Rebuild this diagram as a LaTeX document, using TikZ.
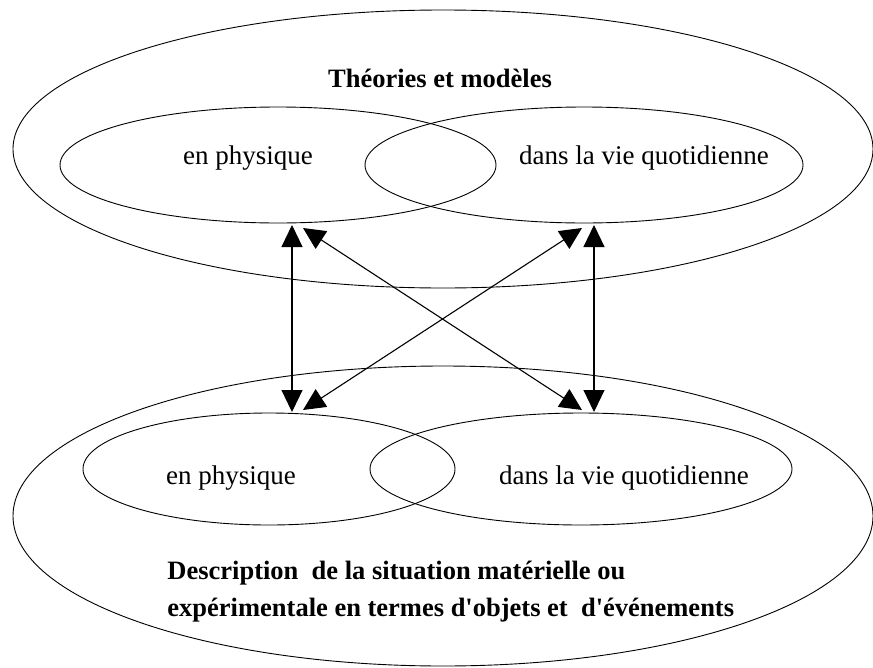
\documentclass[tikz,border=0pt]{standalone}
\usepackage{fontspec}
\setmainfont{Liberation Serif}[Ligatures=TeXOff]
\usetikzlibrary{arrows.meta}
\tikzset{
    lab/.style={font=\fontsize{27}{32}\selectfont, inner sep=0pt},
    title/.style={font=\fontsize{26.5}{37}\selectfont\bfseries, inner sep=0pt},
    link/.style={line width=1.1pt, {Triangle[length=22pt,width=21pt]}-{Triangle[length=22pt,width=21pt]}},
}
\begin{document}
\begin{tikzpicture}[x=1pt,y=-1pt,line width=0.9pt]
    \useasboundingbox (0,0) rectangle (873,667);
    % theories
    \draw (443,149) ellipse (430 and 139);
    \draw (278,165) ellipse (218 and 58);
    \draw (584,165) ellipse (219 and 58);
    \node[title] (theo) at (440,78) {Théories et modèles};
    \node[lab] (phys1) at (248,158) {en physique};
    \node[lab] (vie1) at (644,158) {dans la vie quotidienne};
    % description
    \draw (443,516) ellipse (430 and 150);
    \draw (269,469) ellipse (186 and 56);
    \draw (581,469) ellipse (211 and 56);
    \node[lab] (phys2) at (231,478) {en physique};
    \node[lab] (vie2) at (624,478) {dans la vie quotidienne};
    \node[title, anchor=west, align=left] (desc) at (167,592)
        {Description\ \ de la situation matérielle ou\\expérimentale en termes d'objets et\ \ d'événements};
    % links
    \coordinate (a1) at (292,225);
    \coordinate (b1) at (303,228);
    \coordinate (c1) at (582,228);
    \coordinate (d1) at (594,225);
    \coordinate (a2) at (292,412);
    \coordinate (b2) at (303,410);
    \coordinate (c2) at (582,410);
    \coordinate (d2) at (594,412);
    \draw[link] (a1) -- (a2);
    \draw[link] (d1) -- (d2);
    \draw[link] (b1) -- (c2);
    \draw[link] (c1) -- (b2);
\end{tikzpicture}
\end{document}
